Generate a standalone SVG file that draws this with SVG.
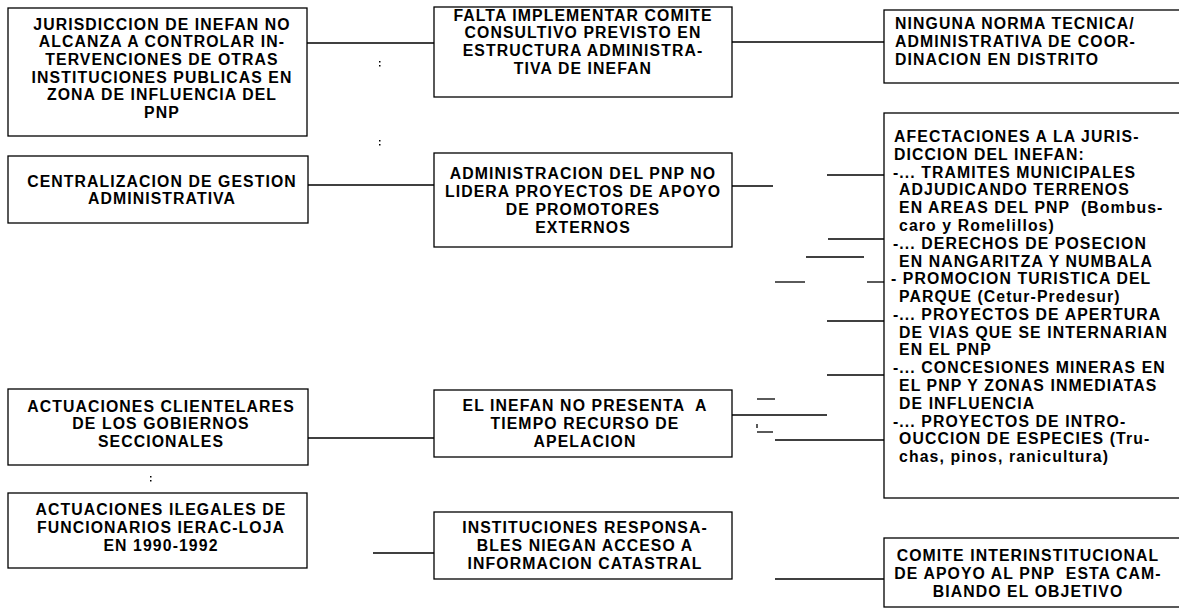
<svg xmlns="http://www.w3.org/2000/svg" width="1179" height="616" viewBox="0 0 1179 616">
<style>
.box{fill:#fff;stroke:#000;stroke-width:1.3}
.t{font-family:"Liberation Sans",Arial,sans-serif;font-size:15.8px;font-weight:bold;fill:#000;letter-spacing:1.1px}
.c{text-anchor:middle}
.ln{stroke:#000;stroke-width:1.3;fill:none}
</style>
<rect width="1179" height="616" fill="#fff"/>
<g id="connectors">
<line class="ln" x1="307" y1="43" x2="434" y2="43"/>
<line class="ln" x1="732" y1="42" x2="884" y2="42"/>
<line class="ln" x1="308" y1="185" x2="434" y2="185"/>
<line class="ln" x1="732" y1="186" x2="773" y2="186"/>
<line class="ln" x1="827" y1="175" x2="884" y2="175"/>
<line class="ln" x1="828" y1="239" x2="884" y2="239"/>
<line class="ln" x1="806" y1="257" x2="864" y2="257"/>
<line class="ln" x1="775" y1="282" x2="805" y2="282"/>
<line class="ln" x1="867" y1="282" x2="884" y2="282"/>
<line class="ln" x1="827" y1="321" x2="884" y2="321"/>
<line class="ln" x1="827" y1="375" x2="884" y2="375"/>
<line class="ln" x1="757" y1="399" x2="775" y2="399"/>
<line class="ln" x1="732" y1="415" x2="827" y2="415"/>
<line class="ln" x1="757" y1="424" x2="757" y2="428"/>
<line class="ln" x1="757" y1="432" x2="773" y2="432"/>
<line class="ln" x1="775" y1="440" x2="884" y2="440"/>
<line class="ln" x1="308" y1="438" x2="434" y2="438"/>
<line class="ln" x1="373" y1="553" x2="434" y2="553"/>
<line class="ln" x1="775" y1="579" x2="884" y2="579"/>
</g>
<g id="marks" fill="#000">
<rect x="379" y="61" width="1.5" height="1.5"/><rect x="379" y="65" width="1.5" height="1.5"/>
<rect x="379" y="140" width="1.5" height="1.5"/><rect x="379" y="144" width="1.5" height="1.5"/>
<rect x="150" y="476" width="1.5" height="1.5"/><rect x="150" y="480" width="1.5" height="1.5"/>
</g>
<g id="n1">
<rect class="box" x="8" y="8" width="299" height="128"/>
<text class="t c" x="162" y="29.5">JURISDICCION DE INEFAN NO</text>
<text class="t c" x="162" y="47.2">ALCANZA A CONTROLAR IN-</text>
<text class="t c" x="162" y="64.9">TERVENCIONES DE OTRAS</text>
<text class="t c" x="162" y="82.6">INSTITUCIONES PUBLICAS EN</text>
<text class="t c" x="162" y="100.3">ZONA DE INFLUENCIA DEL</text>
<text class="t c" x="162" y="118">PNP</text>
</g>
<g id="n2">
<rect class="box" x="8" y="156" width="300" height="67"/>
<text class="t c" x="162" y="186.5">CENTRALIZACION DE GESTION</text>
<text class="t c" x="162" y="204.2">ADMINISTRATIVA</text>
</g>
<g id="n3">
<rect class="box" x="8" y="389" width="300" height="76"/>
<text class="t c" x="161" y="411.5">ACTUACIONES CLIENTELARES</text>
<text class="t c" x="161" y="429.2">DE LOS GOBIERNOS</text>
<text class="t c" x="161" y="446.9">SECCIONALES</text>
</g>
<g id="n4">
<rect class="box" x="8" y="493" width="299" height="75"/>
<text class="t c" x="161" y="515">ACTUACIONES ILEGALES DE</text>
<text class="t c" x="161" y="533">FUNCIONARIOS IERAC-LOJA</text>
<text class="t c" x="161" y="551">EN 1990-1992</text>
</g>
<g id="n5">
<rect class="box" x="434" y="7" width="298" height="90"/>
<text class="t c" x="583" y="20.5">FALTA IMPLEMENTAR COMITE</text>
<text class="t c" x="583" y="38.2">CONSULTIVO PREVISTO EN</text>
<text class="t c" x="583" y="55.9">ESTRUCTURA ADMINISTRA-</text>
<text class="t c" x="583" y="73.6">TIVA DE INEFAN</text>
</g>
<g id="n6">
<rect class="box" x="434" y="153" width="298" height="94"/>
<text class="t c" x="583" y="179">ADMINISTRACION DEL PNP NO</text>
<text class="t c" x="583" y="197">LIDERA PROYECTOS DE APOYO</text>
<text class="t c" x="583" y="215">DE PROMOTORES</text>
<text class="t c" x="583" y="233">EXTERNOS</text>
</g>
<g id="n7">
<rect class="box" x="434" y="390" width="298" height="67"/>
<text class="t c" x="585" y="411" xml:space="preserve">EL INEFAN NO PRESENTA  A</text>
<text class="t c" x="585" y="429">TIEMPO RECURSO DE</text>
<text class="t c" x="585" y="447">APELACION</text>
</g>
<g id="n8">
<rect class="box" x="434" y="512" width="298" height="67"/>
<text class="t c" x="585" y="533">INSTITUCIONES RESPONSA-</text>
<text class="t c" x="585" y="551">BLES NIEGAN ACCESO A</text>
<text class="t c" x="585" y="569">INFORMACION CATASTRAL</text>
</g>
<g id="n9">
<rect class="box" x="884" y="10" width="310" height="73"/>
<text class="t" x="895" y="29">NINGUNA NORMA TECNICA/</text>
<text class="t" x="895" y="47">ADMINISTRATIVA DE COOR-</text>
<text class="t" x="895" y="65">DINACION EN DISTRITO</text>
</g>
<g id="n10">
<rect class="box" x="884" y="113" width="310" height="385"/>
<text class="t" x="894" y="142">AFECTACIONES A LA JURIS-</text>
<text class="t" x="894" y="159.8">DICCION DEL INEFAN:</text>
<text class="t" x="893" y="177.6">-... TRAMITES MUNICIPALES</text>
<text class="t" x="899" y="195.3">ADJUDICANDO TERRENOS</text>
<text class="t" x="899" y="213.1" xml:space="preserve">EN AREAS DEL PNP  (Bombus-</text>
<text class="t" x="899" y="230.9">caro y Romelillos)</text>
<text class="t" x="893" y="248.7">-... DERECHOS DE POSECION</text>
<text class="t" x="899" y="266.5">EN NANGARITZA Y NUMBALA</text>
<text class="t" x="891" y="284.2">- PROMOCION TURISTICA DEL</text>
<text class="t" x="899" y="302">PARQUE (Cetur-Predesur)</text>
<text class="t" x="893" y="319.8">-... PROYECTOS DE APERTURA</text>
<text class="t" x="899" y="337.6">DE VIAS QUE SE INTERNARIAN</text>
<text class="t" x="899" y="355.4">EN EL PNP</text>
<text class="t" x="893" y="373.1">-... CONCESIONES MINERAS EN</text>
<text class="t" x="899" y="390.9">EL PNP Y ZONAS INMEDIATAS</text>
<text class="t" x="899" y="408.7">DE INFLUENCIA</text>
<text class="t" x="893" y="426.5">-... PROYECTOS DE INTRO-</text>
<text class="t" x="899" y="444.3">OUCCION DE ESPECIES (Tru-</text>
<text class="t" x="899" y="462">chas, pinos, ranicultura)</text>
</g>
<g id="n11">
<rect class="box" x="884" y="538" width="310" height="69"/>
<text class="t c" x="1028" y="561">COMITE INTERINSTITUCIONAL</text>
<text class="t c" x="1028" y="579" xml:space="preserve">DE APOYO AL PNP  ESTA CAM-</text>
<text class="t c" x="1028" y="597">BIANDO EL OBJETIVO</text>
</g>
</svg>
